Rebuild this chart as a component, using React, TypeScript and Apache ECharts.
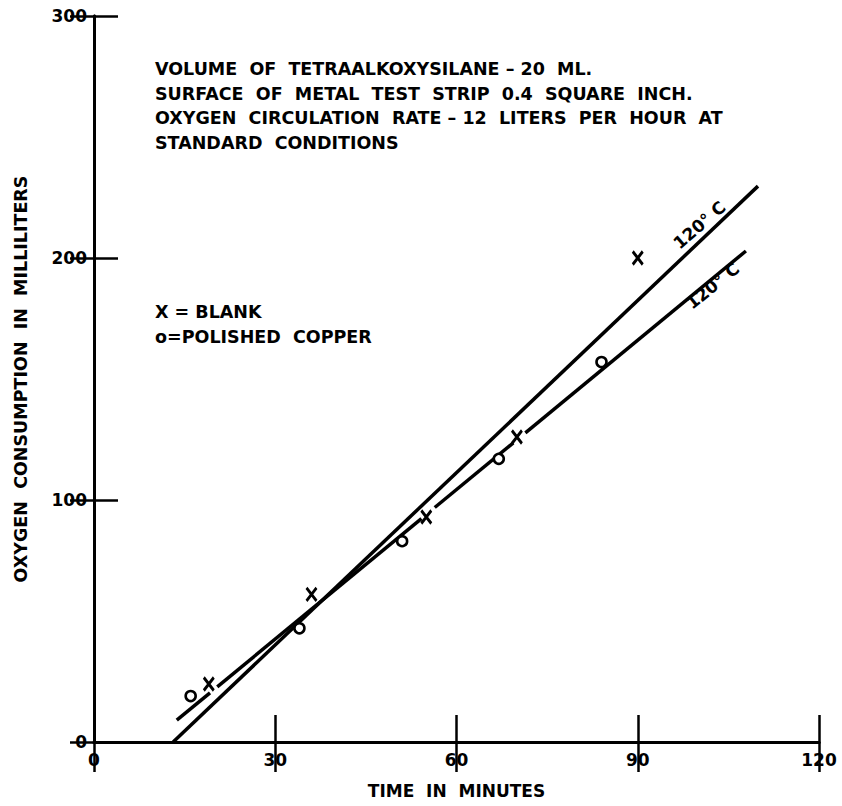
import React, { useEffect, useRef } from "react";
import * as echarts from "echarts";

// ---- data ----
const xTicks = [0, 30, 60, 90, 120];
const yTicks = [0, 100, 200, 300];

const blankX = [19, 36, 55, 70, 90];
const blankY = [24, 61, 93, 126, 200];

const copperX = [16, 34, 51, 67, 84];
const copperY = [19, 47, 83, 117, 157];

// fitted line for blank
const blankFitX = [13.1, 109.9];
const blankFitY = [0, 229.7];

// fitted line for polished copper (drawn broken around the markers)
const copperFitSegX = [
  [13.7, 19.2],
  [20.4, 54.2],
  [56.4, 69.4],
  [71.4, 107.9],
];
const copperFitSegY = [
  [9.0, 20.3],
  [22.8, 92.3],
  [96.9, 123.6],
  [127.7, 202.9],
];

// curve labels (positions in data units)
const curveLabelText = ["120° C", "120° C"];
const curveLabelX = [100.2, 102.4];
const curveLabelY = [213.6, 188.5];
const curveLabelRot = [41, 39];

const notes = [
  "VOLUME  OF  TETRAALKOXYSILANE – 20  ML.",
  "SURFACE  OF  METAL  TEST  STRIP  0.4  SQUARE  INCH.",
  "OXYGEN  CIRCULATION  RATE – 12  LITERS  PER  HOUR  AT",
  "STANDARD  CONDITIONS",
];
const legendLines = ["X = BLANK", "o=POLISHED  COPPER"];

const FONT = "DejaVu Sans";

export default function App() {
  const ref = useRef<HTMLDivElement>(null);

  useEffect(() => {
    document.body.style.margin = "0";
    const chart = echarts.init(ref.current!, null, { renderer: "svg" });

    const copperSeries = copperFitSegX.map((xs, i) => ({
      type: "line",
      xAxisIndex: 0,
      yAxisIndex: 0,
      symbol: "none",
      silent: true,
      lineStyle: { color: "#000", width: 3.5, opacity: 1 },
      data: xs.map((x, j) => [x, copperFitSegY[i][j]]),
      z: 2,
    }));

    const option: any = {
      animation: false,
      backgroundColor: "#fff",
      grid: { left: 94, right: 23, top: 16, bottom: 64, containLabel: false },
      xAxis: [
        {
          type: "value",
          position: "bottom",
          min: 0,
          max: 120,
          interval: 30,
          name: "TIME  IN  MINUTES",
          nameLocation: "middle",
          nameGap: 40,
          nameTextStyle: { fontFamily: FONT, fontWeight: "bold", fontSize: 17, color: "#000" },
          axisLine: { show: true, lineStyle: { color: "#000", width: 3 } },
          axisTick: { show: true, inside: true, length: 27, lineStyle: { color: "#000", width: 2.5 } },
          axisLabel: {
            margin: 9,
            fontFamily: FONT,
            fontWeight: "bold",
            fontSize: 17,
            color: "#000",
            formatter: (v: number) => (xTicks.includes(v) ? String(v) : ""),
          },
          splitLine: { show: false },
        },
        {
          type: "value",
          position: "top",
          min: 0,
          max: 120,
          interval: 30,
          axisLine: { show: true, lineStyle: { color: "#000", width: 3 } },
          axisTick: { show: true, inside: true, length: 30, lineStyle: { color: "#000", width: 2.5 } },
          axisLabel: { show: false },
          splitLine: { show: false },
        },
      ],
      yAxis: [
        {
          type: "value",
          position: "left",
          min: 0,
          max: 300,
          interval: 100,
          name: "OXYGEN  CONSUMPTION  IN  MILLILITERS",
          nameLocation: "middle",
          nameRotate: 90,
          nameGap: 64,
          nameTextStyle: { fontFamily: FONT, fontWeight: "bold", fontSize: 17.5, color: "#000" },
          axisLine: { show: true, lineStyle: { color: "#000", width: 3 } },
          axisTick: { show: true, inside: true, length: 24, lineStyle: { color: "#000", width: 2.5 } },
          axisLabel: {
            margin: 7,
            fontFamily: FONT,
            fontWeight: "bold",
            fontSize: 17,
            color: "#000",
            formatter: (v: number) => (yTicks.includes(v) ? String(v) : ""),
          },
          splitLine: { show: false },
        },
        {
          type: "value",
          position: "right",
          min: 0,
          max: 300,
          interval: 100,
          axisLine: { show: true, lineStyle: { color: "#000", width: 3 } },
          axisTick: { show: true, inside: true, length: 24, lineStyle: { color: "#000", width: 2.5 } },
          axisLabel: { show: false },
          splitLine: { show: false },
        },
      ],
      series: [
        {
          type: "line",
          symbol: "none",
          silent: true,
          lineStyle: { color: "#000", width: 3.5, opacity: 1 },
          data: blankFitX.map((x, i) => [x, blankFitY[i]]),
          z: 2,
        },
        ...copperSeries,
        {
          type: "scatter",
          name: "BLANK",
          symbol: "path://M0,0L10,13M10,0L0,13",
          symbolSize: [10, 13],
          itemStyle: { color: "rgba(0,0,0,0)", borderColor: "#000", borderWidth: 3, opacity: 1 },
          data: blankX.map((x, i) => [x, blankY[i]]),
          z: 5,
        },
        {
          type: "scatter",
          name: "POLISHED COPPER",
          symbol: "circle",
          symbolSize: 10,
          itemStyle: { color: "#fff", borderColor: "#000", borderWidth: 2.6, opacity: 1 },
          data: copperX.map((x, i) => [x, copperY[i]]),
          z: 5,
        },
        ...curveLabelText.map((t, i) => ({
          type: "scatter",
          symbolSize: 0,
          silent: true,
          itemStyle: { opacity: 1 },
          data: [[curveLabelX[i], curveLabelY[i]]],
          label: {
            show: true,
            position: "inside",
            formatter: t,
            rotate: curveLabelRot[i],
            fontFamily: FONT,
            fontWeight: "bold",
            fontSize: 17,
            color: "#000",
            opacity: 1,
            align: "center",
            verticalAlign: "middle",
          },
          z: 6,
        })),
      ],
      graphic: [
        ...notes.map((t, i) => ({
          type: "text",
          left: 155,
          top: 60 + i * 24.5,
          style: {
            text: t,
            fontFamily: FONT,
            fontWeight: "bold",
            fontSize: 17.5,
            fill: "#000",
          },
        })),
        ...legendLines.map((t, i) => ({
          type: "text",
          left: 155,
          top: 303 + i * 25,
          style: {
            text: t,
            fontFamily: FONT,
            fontWeight: "bold",
            fontSize: 17.5,
            fill: "#000",
          },
        })),
      ],
    };

    chart.setOption(option);
    return () => chart.dispose();
  }, []);

  return <div ref={ref} style={{ width: 842, height: 806 }} />;
}
